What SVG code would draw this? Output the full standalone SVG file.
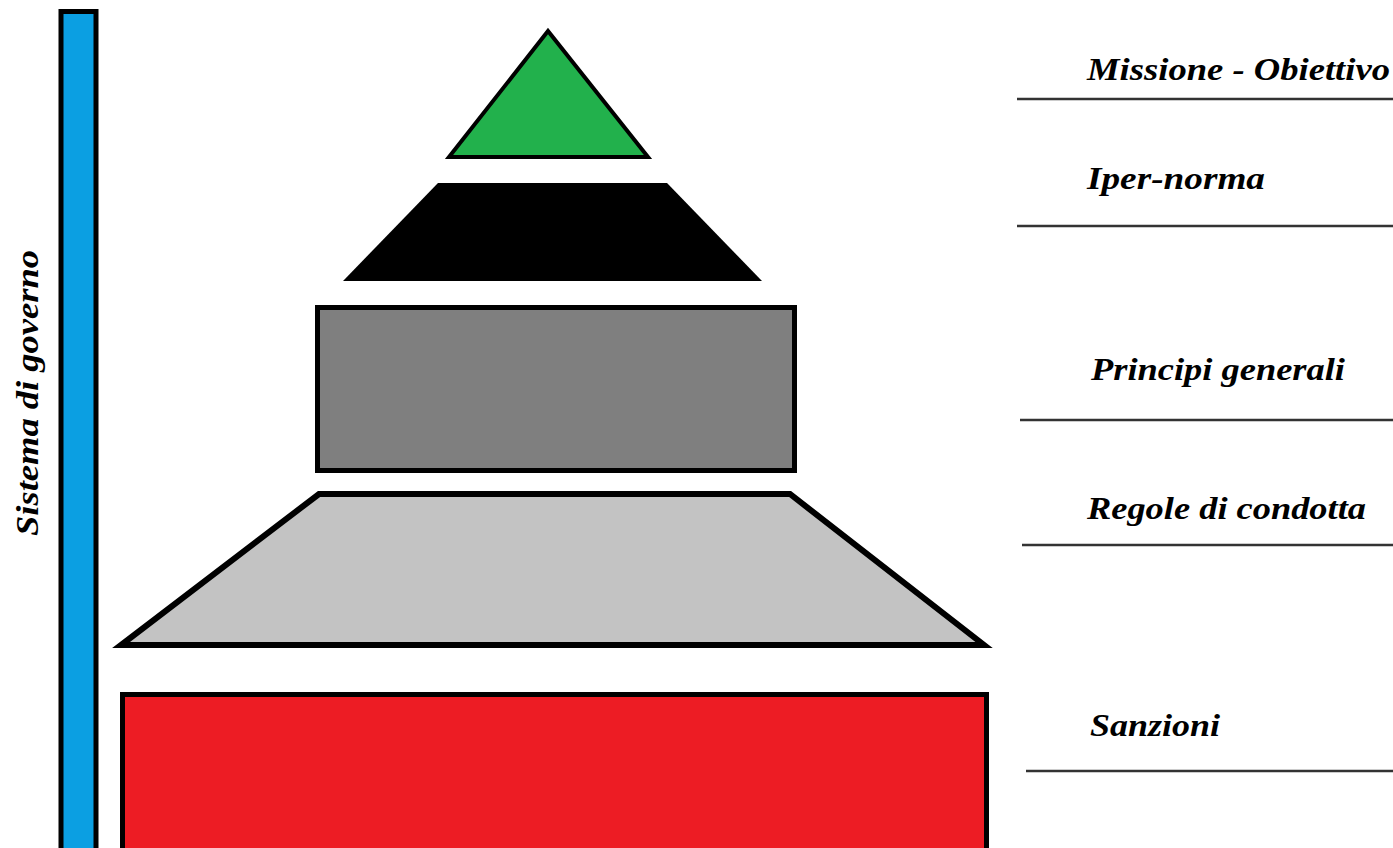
<svg xmlns="http://www.w3.org/2000/svg" width="1393" height="848" viewBox="0 0 1393 848">
<style>
.lbl{font-family:"Liberation Serif","DejaVu Serif",serif;font-weight:bold;font-style:italic;font-size:31px;fill:#000}
.sep{stroke:#333;stroke-width:2.5}
.shape{stroke:#000;stroke-linejoin:miter}
</style>
<rect width="1393" height="848" fill="#fff"/>
<g id="bar">
<rect x="61" y="11.5" width="35" height="850" fill="#0b9fe2" stroke="#000" stroke-width="5"/>
</g>
<g id="label-sistema">
<text class="lbl" transform="translate(38,536) rotate(-90)" textLength="286" lengthAdjust="spacingAndGlyphs">Sistema di governo</text>
</g>
<g id="missione">
<polygon class="shape" points="548,31 648,157 449,157" fill="#22b14c" stroke-width="4"/>
</g>
<g id="iper-norma">
<polygon points="438,183 667,183 762,281 343,281" fill="#000"/>
</g>
<g id="principi">
<rect class="shape" x="317.5" y="307.5" width="477" height="163" fill="#7f7f7f" stroke-width="5"/>
</g>
<g id="regole">
<polygon class="shape" points="319,494 790,494 984,645 121,645" fill="#c3c3c3" stroke-width="6"/>
</g>
<g id="sanzioni">
<rect class="shape" x="122.5" y="694.5" width="864" height="170" fill="#ed1c24" stroke-width="5"/>
</g>
<g id="connectors">
<line class="sep" x1="1017" y1="99" x2="1393" y2="99"/>
<line class="sep" x1="1017" y1="226" x2="1393" y2="226"/>
<line class="sep" x1="1020" y1="420" x2="1393" y2="420"/>
<line class="sep" x1="1022" y1="545" x2="1393" y2="545"/>
<line class="sep" x1="1026" y1="771" x2="1393" y2="771"/>
</g>
<g id="labels">
<text class="lbl" x="1087" y="80" textLength="303" lengthAdjust="spacingAndGlyphs">Missione - Obiettivo</text>
<text class="lbl" x="1087" y="189" textLength="178" lengthAdjust="spacingAndGlyphs">Iper-norma</text>
<text class="lbl" x="1091" y="380" textLength="254" lengthAdjust="spacingAndGlyphs">Principi generali</text>
<text class="lbl" x="1087" y="519" textLength="279" lengthAdjust="spacingAndGlyphs">Regole di condotta</text>
<text class="lbl" x="1090" y="736" textLength="130" lengthAdjust="spacingAndGlyphs">Sanzioni</text>
</g>
</svg>
